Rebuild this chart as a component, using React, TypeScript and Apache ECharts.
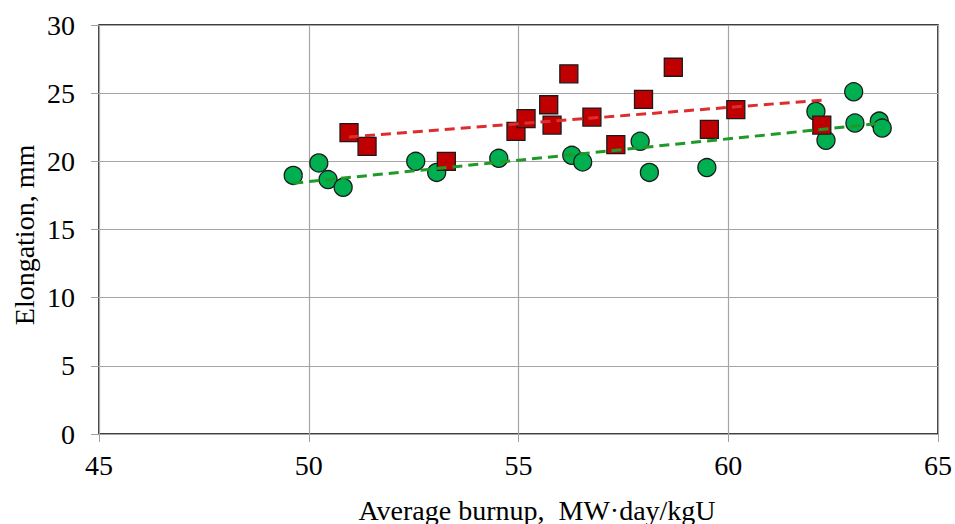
import React, { useEffect, useRef } from "react";
import * as echarts from "echarts";

// Measured points: average burnup (MW·day/kgU) vs. elongation (mm)
const circleBurnup = [49.63, 50.24, 50.46, 50.82, 52.55, 53.05, 54.53, 56.27, 56.53, 57.9, 58.12, 59.49, 62.09, 62.33, 62.99, 63.02, 63.6, 63.67];
const circleElongation = [18.97, 19.88, 18.66, 18.09, 20.0, 19.19, 20.22, 20.44, 19.95, 21.47, 19.19, 19.54, 23.66, 21.54, 25.1, 22.81, 22.95, 22.44];

const squareBurnup = [50.96, 51.39, 53.28, 54.94, 55.18, 55.72, 55.8, 56.2, 56.75, 57.32, 57.98, 58.69, 59.55, 60.18, 62.23];
const squareElongation = [22.1, 21.1, 20.0, 22.2, 23.13, 24.15, 22.66, 26.42, 23.25, 21.22, 24.54, 26.9, 22.34, 23.79, 22.66];

// Linear trend end points
const circleTrendBurnup = [49.63, 63.67];
const circleTrendElongation = [18.4, 22.8];
const squareTrendBurnup = [50.96, 62.23];
const squareTrendElongation = [21.78, 24.49];

const xTicks = [45, 50, 55, 60, 65];
const yTicks = [0, 5, 10, 15, 20, 25, 30];

const xTitle = "Average burnup,  MW·day/kgU";
const yTitle = "Elongation, mm";

const pairs = (xs: number[], ys: number[]) => xs.map((x, i) => [x, ys[i]]);

const FONT = "'Liberation Serif', 'Times New Roman', serif";

export default function App() {
  const ref = useRef<HTMLDivElement>(null);

  useEffect(() => {
    document.body.style.margin = "0";
    if (!ref.current) return;
    const chart = echarts.init(ref.current, undefined, { renderer: "svg" });

    const labelStyle = { fontFamily: FONT, fontSize: 28, color: "#000" };

    chart.setOption({
      animation: false,
      backgroundColor: "#fff",
      grid: {
        left: 99,
        top: 25,
        right: 17,
        bottom: 90,
        show: true,
        borderColor: "#000",
        borderWidth: 1.5,
        backgroundColor: "transparent",
      },
      xAxis: {
        type: "value",
        min: xTicks[0],
        max: xTicks[xTicks.length - 1],
        interval: 5,
        axisLine: { show: false },
        axisTick: { show: true, length: 8, lineStyle: { color: "#a0a0a0", width: 1 } },
        splitLine: { show: true, lineStyle: { color: "#a6a6a6", width: 1.2 } },
        axisLabel: { ...labelStyle, margin: 17 },
      },
      yAxis: {
        type: "value",
        min: yTicks[0],
        max: yTicks[yTicks.length - 1],
        interval: 5,
        axisLine: { show: false },
        axisTick: { show: true, length: 8, lineStyle: { color: "#a0a0a0", width: 1 } },
        splitLine: { show: true, lineStyle: { color: "#a6a6a6", width: 1.2 } },
        axisLabel: { ...labelStyle, margin: 24 },
      },
      graphic: [
        {
          type: "text",
          x: 537,
          y: 510,
          style: {
            text: xTitle,
            fontFamily: FONT,
            fontSize: 28,
            fill: "#000",
            textAlign: "center",
            textVerticalAlign: "middle",
          },
        },
        {
          type: "text",
          x: 24,
          y: 235,
          rotation: Math.PI / 2,
          style: {
            text: yTitle,
            fontFamily: FONT,
            fontSize: 28,
            fill: "#000",
            textAlign: "center",
            textVerticalAlign: "middle",
          },
        },
      ],
      series: [
        {
          type: "scatter",
          data: pairs(circleBurnup, circleElongation),
          symbol: "circle",
          symbolSize: 18,
          itemStyle: { color: "#00b050", borderColor: "#1a1a1a", borderWidth: 1.3, opacity: 1 },
          z: 2,
        },
        {
          type: "scatter",
          data: pairs(squareBurnup, squareElongation),
          symbol: "rect",
          symbolSize: 18,
          itemStyle: { color: "#c00000", borderColor: "#1a1a1a", borderWidth: 1.3, opacity: 1 },
          z: 3,
        },
        {
          type: "line",
          data: pairs(circleTrendBurnup, circleTrendElongation),
          showSymbol: false,
          symbol: "none",
          lineStyle: { color: "#1f9a28", width: 3, type: [10, 6] },
          z: 4,
        },
        {
          type: "line",
          data: pairs(squareTrendBurnup, squareTrendElongation),
          showSymbol: false,
          symbol: "none",
          lineStyle: { color: "#dc2e2e", width: 3, type: [10, 6] },
          z: 4,
        },
      ],
    });

    return () => chart.dispose();
  }, []);

  return <div ref={ref} style={{ width: 955, height: 524 }} />;
}
